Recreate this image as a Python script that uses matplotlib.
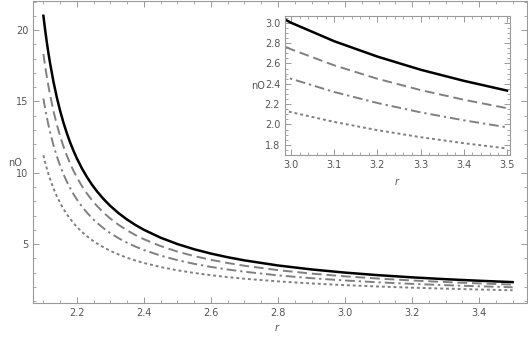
import numpy as np
import matplotlib.pyplot as plt
from matplotlib.ticker import MultipleLocator

plt.rcParams.update({'font.size': 7, 'font.family': 'DejaVu Sans'})

# values
r = [2.100, 2.105, 2.110, 2.115, 2.120, 2.130, 2.140, 2.150, 2.160, 2.170,
     2.180, 2.190, 2.200, 2.215, 2.230, 2.245, 2.260, 2.280, 2.300, 2.325,
     2.350, 2.375, 2.400, 2.450, 2.500, 2.550, 2.600, 2.650, 2.700, 2.800,
     2.900, 3.000, 3.100, 3.200, 3.300, 3.400, 3.500]

nO_solid = [21.000, 20.048, 19.182, 18.391, 17.667, 16.385, 15.286, 14.333,
            13.500, 12.765, 12.111, 11.526, 11.000, 10.302, 9.696, 9.163,
            8.692, 8.143, 7.667, 7.154, 6.714, 6.333, 6.000, 5.444, 5.000,
            4.636, 4.333, 4.077, 3.857, 3.500, 3.222, 3.000, 2.818, 2.667,
            2.538, 2.429, 2.333]
nO_dashed = [18.330, 17.506, 16.756, 16.071, 15.444, 14.333, 13.382, 12.557,
             11.835, 11.198, 10.632, 10.125, 9.670, 9.065, 8.540, 8.079,
             7.671, 7.195, 6.782, 6.338, 5.957, 5.627, 5.339, 4.857, 4.472,
             4.157, 3.894, 3.672, 3.482, 3.172, 2.931, 2.739, 2.581, 2.449,
             2.338, 2.243, 2.160]
nO_dashdot = [15.199, 14.525, 13.913, 13.353, 12.841, 11.934, 11.157, 10.483,
              9.893, 9.373, 8.910, 8.496, 8.124, 7.630, 7.201, 6.824, 6.490,
              6.101, 5.764, 5.401, 5.089, 4.819, 4.583, 4.188, 3.873, 3.615,
              3.399, 3.217, 3.061, 2.806, 2.608, 2.449, 2.319, 2.211, 2.119,
              2.041, 1.972]
nO_dotted = [11.225, 10.748, 10.314, 9.917, 9.554, 8.911, 8.359, 7.881,
             7.462, 7.093, 6.764, 6.470, 6.205, 5.853, 5.548, 5.279, 5.041,
             4.763, 4.522, 4.262, 4.038, 3.844, 3.674, 3.390, 3.162, 2.975,
             2.818, 2.686, 2.571, 2.385, 2.239, 2.121, 2.025, 1.944, 1.875,
             1.816, 1.764]

gray = '#808080'
frame = '#9a9a9a'
txt = '#555555'


def draw_curves(ax):
    ax.plot(r, nO_solid, color='black', lw=1.8)
    ax.plot(r, nO_dashed, color=gray, lw=1.4, dashes=(5, 2.5))
    ax.plot(r, nO_dashdot, color=gray, lw=1.4, dashes=(5, 2, 1.2, 2))
    ax.plot(r, nO_dotted, color=gray, lw=1.4, dashes=(1.5, 1.5))


def style_frame(ax):
    for s in ax.spines.values():
        s.set_color(frame)
        s.set_linewidth(0.8)
    ax.tick_params(which='both', direction='in', top=True, right=True,
                   color=frame, labelcolor=txt, labelsize=7)
    ax.tick_params(which='major', length=4, width=0.7)
    ax.tick_params(which='minor', length=2, width=0.6)


fig = plt.figure(figsize=(5.28, 3.39), dpi=100)

ax = fig.add_axes([0.0625, 0.1062, 0.9356, 0.8923])
draw_curves(ax)
ax.set_xlim(2.069, 3.543)
ax.set_ylim(0.87, 22.07)
ax.xaxis.set_major_locator(MultipleLocator(0.2))
ax.xaxis.set_minor_locator(MultipleLocator(0.05))
ax.yaxis.set_major_locator(MultipleLocator(5))
ax.yaxis.set_minor_locator(MultipleLocator(1))
ax.xaxis.set_major_formatter(lambda v, p: f"{v:.1f}")
style_frame(ax)
fig.text(8 / 528, 1 - 163 / 339, 'nO', color=txt, fontsize=7,
         ha='left', va='center')
fig.text(277 / 528, 1 - 328 / 339, 'r', color=txt, fontsize=7,
         style='italic', ha='center', va='center')

ins = fig.add_axes([0.5398, 0.5428, 0.4261, 0.41])
draw_curves(ins)
ins.set_xlim(2.986, 3.507)
ins.set_ylim(1.70, 3.066)
ins.xaxis.set_major_locator(MultipleLocator(0.1))
ins.xaxis.set_minor_locator(MultipleLocator(0.02))
ins.yaxis.set_major_locator(MultipleLocator(0.2))
ins.yaxis.set_minor_locator(MultipleLocator(0.05))
ins.xaxis.set_major_formatter(lambda v, p: f"{v:.1f}")
ins.yaxis.set_major_formatter(lambda v, p: f"{v:.1f}")
style_frame(ins)
fig.text(258 / 528, 1 - 86 / 339, 'nO', color=txt, fontsize=7,
         ha='center', va='center')
fig.text(397 / 528, 1 - 182 / 339, 'r', color=txt, fontsize=7,
         style='italic', ha='center', va='center')

fig.savefig('out.png', dpi=100)
